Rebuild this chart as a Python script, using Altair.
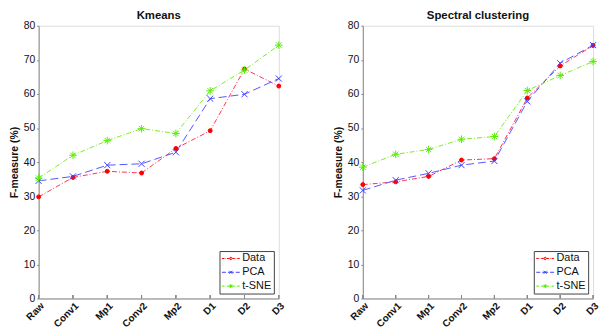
import altair as alt
import pandas as pd

categories = ["Raw", "Conv1", "Mp1", "Conv2", "Mp2", "D1", "D2", "D3"]
series = ["Data", "PCA", "t-SNE"]

kmeans_data = [29.8, 35.5, 37.3, 36.8, 44.0, 49.2, 67.3, 62.3]
kmeans_pca = [34.5, 35.8, 39.1, 39.5, 42.9, 58.6, 59.9, 64.5]
kmeans_tsne = [35.3, 42.0, 46.3, 49.8, 48.4, 60.9, 67.0, 74.3]

spectral_data = [33.4, 34.2, 35.8, 40.6, 41.0, 58.8, 68.2, 74.2]
spectral_pca = [31.7, 34.7, 36.7, 39.1, 40.3, 57.8, 69.0, 74.3]
spectral_tsne = [38.5, 42.3, 43.7, 46.7, 47.5, 61.0, 65.4, 69.5]

y_ticks = [0, 10, 20, 30, 40, 50, 60, 70, 80]

colors = ["#ff0000", "#3d3dff", "#55ee00"]
line_colors = ["#ff3355", "#5555ff", "#77ee22"]
dashes = [[5, 2, 1, 2], [8, 4], [5, 2, 1, 2]]

X_PATH = "M-1,-1L1,1M-1,1L1,-1"
AST_PATH = "M-1,0L1,0M0,-1L0,1M-0.7,-0.7L0.7,0.7M-0.7,0.7L0.7,-0.7"

# legend symbols: short dashed line segment with the marker in the middle
LEG_DATA = ("M-1,0H-0.5M-0.3,0H-0.2M0,0H0.5M0.7,0H0.8M1.1,0H1.6M1.8,0H1.9M2.1,0H2.6"
            "M0.55,0a0.25,0.25 0 1,0 0.5,0a0.25,0.25 0 1,0 -0.5,0")
LEG_PCA = ("M-1,0H-0.2M0.2,0H1.4M1.8,0H2.6"
           "M0.5,-0.3L1.1,0.3M0.5,0.3L1.1,-0.3")
LEG_TSNE = ("M-1,0H-0.5M-0.3,0H-0.2M0,0H0.5M0.7,0H0.8M1.1,0H1.6M1.8,0H1.9M2.1,0H2.6"
            "M0.4,0H1.2M0.8,-0.4V0.4M0.52,-0.28L1.08,0.28M0.52,0.28L1.08,-0.28")

FONT = "Liberation Sans"
PLOT_H = 276


def make_df(vals):
    rows = []
    for s, v in zip(series, vals):
        for c, y in zip(categories, v):
            rows.append({"layer": c, "series": s, "value": y, "leg": s, "zero": 0, "tick": 1.0})
    return pd.DataFrame(rows)


def panel(vals, title, width):
    df = make_df(vals)
    base = alt.Chart(df)
    x = alt.X("layer:N", sort=categories,
              scale=alt.Scale(type="point", padding=0, domain=categories),
              axis=alt.Axis(title=None, labelAngle=-45, labelAlign="right", labelBaseline="top",
                            labelFont=FONT, labelFontSize=10, labelFontWeight="bold",
                            labelColor="#111", ticks=False, domainColor="#888",
                            labelPadding=2, labelOverlap=False))
    y_scale = alt.Scale(domain=[0, 80], nice=False)
    y_axis = alt.Axis(title="F-measure (%)", values=y_ticks, titleFont=FONT,
                      titleFontSize=10.5, titleFontWeight="bold", titleColor="#111",
                      labelFont=FONT, labelFontSize=10.5, labelColor="#111",
                      ticks=True, tickSize=2, tickColor="#888", domainColor="#888",
                      labelPadding=2, titlePadding=4, grid=False, labelOverlap=False)
    y = alt.Y("value:Q", scale=y_scale, axis=y_axis)
    color = alt.Color("series:N", scale=alt.Scale(domain=series, range=line_colors), legend=None)
    pcolor = alt.Color("series:N", scale=alt.Scale(domain=series, range=colors), legend=None)

    lines = base.mark_line(strokeWidth=1).encode(
        x=x, y=y, color=color,
        strokeDash=alt.StrokeDash("series:N", scale=alt.Scale(domain=series, range=dashes), legend=None))

    points = base.mark_point(filled=False, strokeWidth=1, opacity=1).encode(
        x=x, y=y, color=pcolor,
        shape=alt.Shape("series:N", scale=alt.Scale(domain=series, range=["circle", X_PATH, AST_PATH]), legend=None),
        fill=alt.Fill("series:N", scale=alt.Scale(domain=series, range=["#ff0000", "transparent", "transparent"]), legend=None),
        size=alt.Size("series:N", scale=alt.Scale(domain=series, range=[16, 60, 110]), legend=None))

    leg = alt.Legend(title=None, orient="bottom-right", offset=5, symbolSize=100,
                     symbolStrokeWidth=1, symbolOpacity=1, labelFont=FONT, labelFontSize=11,
                     labelColor="#111", labelOffset=10, strokeColor="#444", fillColor="white",
                     padding=2, rowPadding=2, symbolFillColor="transparent")
    legend_layer = base.mark_point(filled=False, opacity=0).encode(
        x=x, y=y,
        color=alt.Color("leg:N", scale=alt.Scale(domain=series, range=colors), legend=leg),
        shape=alt.Shape("leg:N", scale=alt.Scale(domain=series, range=[LEG_DATA, LEG_PCA, LEG_TSNE]), legend=leg),
    )

    ticks = base.mark_rule(color="#888", strokeWidth=1).encode(
        x=x, y=alt.Y("zero:Q", scale=y_scale, axis=y_axis), y2="tick:Q")

    return alt.layer(lines, points, legend_layer, ticks).resolve_scale(
        color="independent", shape="independent"
    ).properties(
        width=width, height=PLOT_H,
        title=alt.TitleParams(title, font=FONT, fontSize=11.5, fontWeight="bold", color="#111", offset=-1)
    )


left = panel([kmeans_data, kmeans_pca, kmeans_tsne], "Kmeans", 243)
right = panel([spectral_data, spectral_pca, spectral_tsne], "Spectral clustering", 233)

chart = alt.hconcat(left, right, spacing=46).properties(padding=0).configure_view(
    stroke=None).configure(background="white")

chart.save("out.html", embed_options={"renderer": "svg", "actions": False})
